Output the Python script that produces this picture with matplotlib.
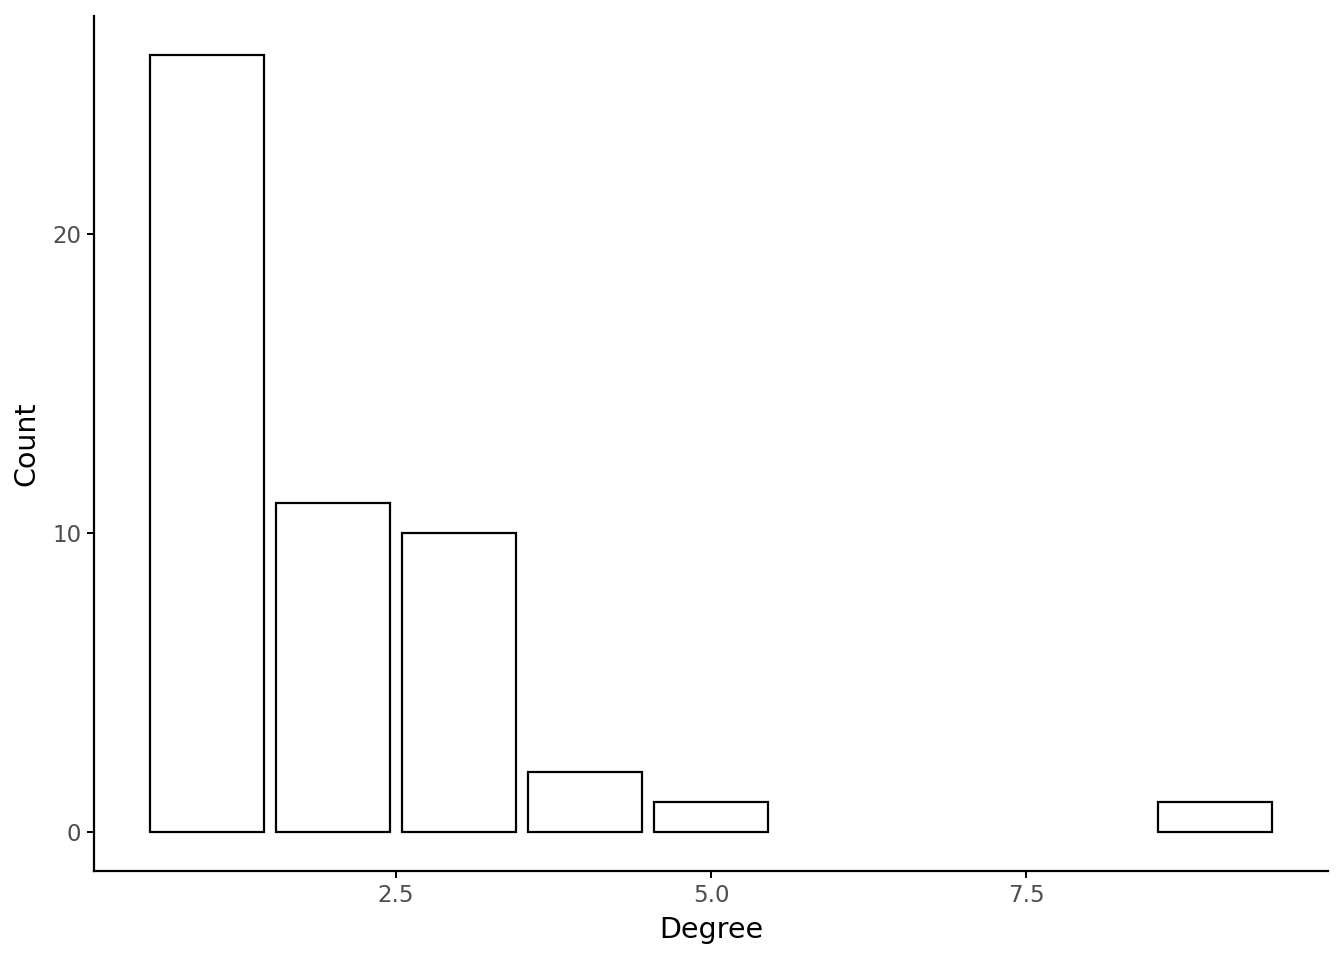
import matplotlib
matplotlib.use("Agg")
import matplotlib.pyplot as plt

# degree distribution
degree = [1, 2, 3, 4, 5, 9]
count = [26, 11, 10, 2, 1, 1]

fig = plt.figure(figsize=(13.44, 9.6), dpi=100)
ax = fig.add_axes([94 / 1344, 89 / 960, 1234 / 1344, 855 / 960])

ax.bar(degree, count, width=0.9, facecolor="white", edgecolor="black", linewidth=1.6)

ax.set_xlim(0.105, 9.895)
ax.set_ylim(-1.3, 27.3)
ax.set_xticks([2.5, 5.0, 7.5])
ax.set_xticklabels(["2.5", "5.0", "7.5"])
ax.set_yticks([0, 10, 20])

for s in ["top", "right"]:
    ax.spines[s].set_visible(False)
for s in ["left", "bottom"]:
    ax.spines[s].set_linewidth(1.6)

ax.tick_params(axis="both", length=5, width=1.4, labelsize=16.5, colors="black", labelcolor="#4d4d4d", pad=4)
ax.set_xlabel("Degree", fontsize=20.5, labelpad=7)
ax.set_ylabel("Count", fontsize=20.5, labelpad=9)

fig.savefig("out.png", dpi=100)
